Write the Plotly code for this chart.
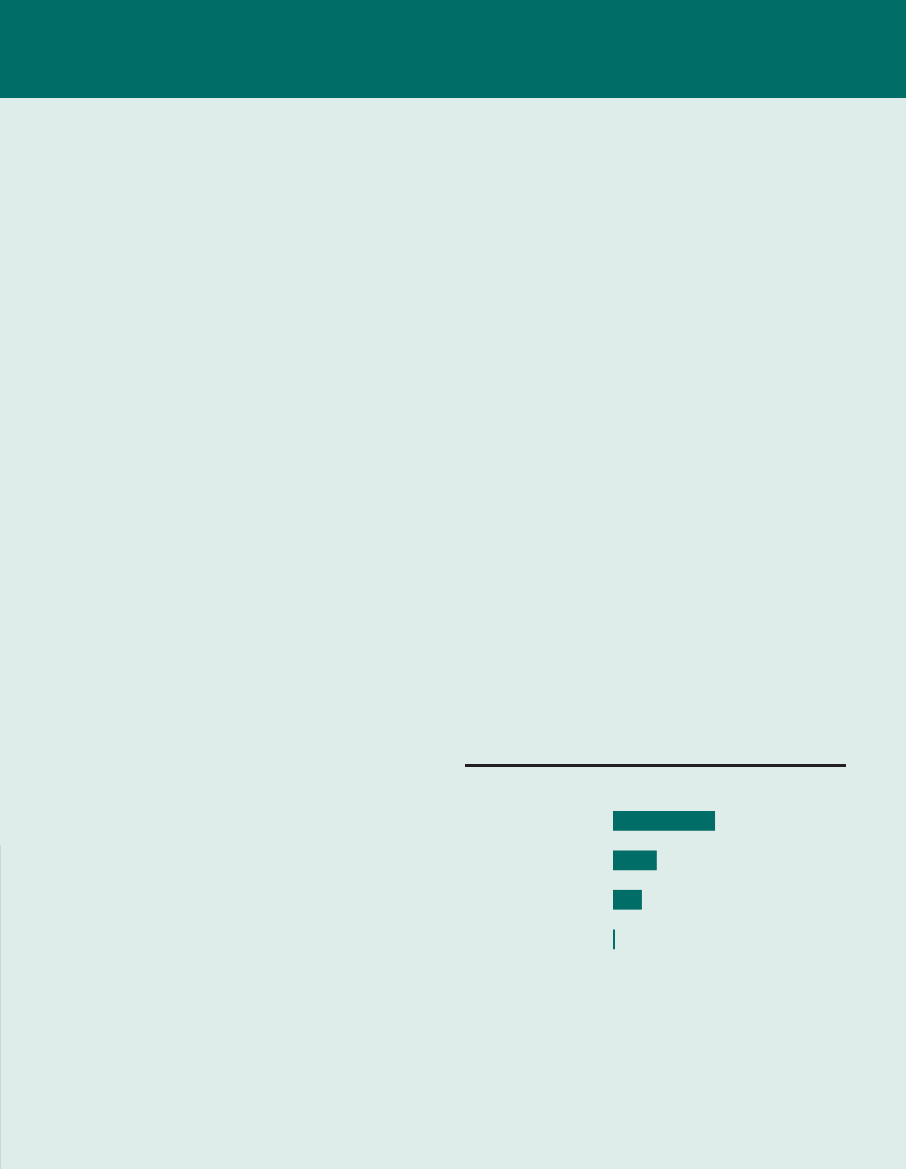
import plotly.graph_objects as go

categories = ["Category 1", "Category 2", "Category 3", "Category 4"]
values = [21.9, 9.4, 6.2, 0.3]

W, H = 906, 1169
TEAL = "#006D66"
BG = "#DFEDEA"

fig = go.Figure(go.Bar(
    x=values, y=categories, orientation="h",
    marker=dict(color=TEAL, line=dict(width=0)),
    hoverinfo="x+y",
))

fig.update_layout(
    width=W, height=H,
    paper_bgcolor=BG, plot_bgcolor=BG,
    margin=dict(l=613, r=60, t=801, b=210, pad=0),
    bargap=0.5,
    showlegend=False,
    xaxis=dict(range=[0, 50], showgrid=False, zeroline=False, showticklabels=False,
               showline=False, fixedrange=True),
    yaxis=dict(autorange="reversed", showgrid=False, zeroline=False, showticklabels=False,
               showline=False, fixedrange=True),
)

# Decorative shapes in pixel-based paper coordinates
plot_w = W - 613 - 60
plot_h = H - 801 - 210

def px_x(px):
    return (px - 613) / plot_w

def px_y(py):
    return (H - 210 - py) / plot_h

fig.add_shape(type="rect", xref="paper", yref="paper",
              x0=px_x(0), x1=px_x(W), y0=px_y(98), y1=px_y(0),
              line=dict(width=0), fillcolor=TEAL, layer="below")
fig.add_shape(type="line", xref="paper", yref="paper",
              x0=px_x(465), x1=px_x(846), y0=px_y(765.5), y1=px_y(765.5),
              line=dict(color="#231F20", width=3))
fig.add_shape(type="line", xref="paper", yref="paper",
              x0=px_x(0.5), x1=px_x(0.5), y0=px_y(845), y1=px_y(H),
              line=dict(color="#C9D8D3", width=1))

fig.write_html(
    "out.html",
    config={"displayModeBar": False},
    post_script="document.body.style.margin='0';document.body.style.overflow='hidden';",
)
